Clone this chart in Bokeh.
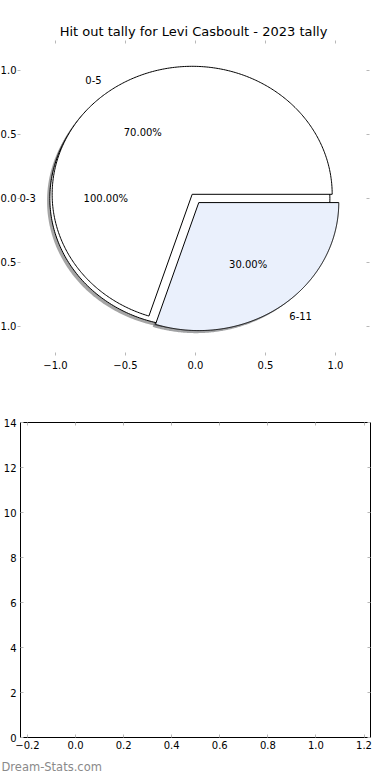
import numpy as np
from bokeh.plotting import figure
from bokeh.layouts import column
from bokeh.models import Range1d, LinearAxis, FixedTicker, Title
from bokeh.core.properties import value
from bokeh.embed import file_html
from bokeh.resources import INLINE

# ---------------- data ----------------
title_text = "Hit out tally for Levi Casboult - 2023 tally"
outer_labels = ["0-3"]
outer_values = [100.0]
outer_colors = ["#ffffff"]
inner_labels = ["0-5", "6-11"]
inner_values = [70.0, 30.0]
inner_colors = ["#ffffff", "#eaf0fc"]
explode_amount = 0.04
shadow_offset = 0.02

pie_ticks = [-1.0, -0.5, 0.0, 0.5, 1.0]
pie_tick_labels = ["\u22121.0", "\u22120.5", "0.0", "0.5", "1.0"]
bar_x_ticks = [-0.2, 0.0, 0.2, 0.4, 0.6, 0.8, 1.0, 1.2]
bar_x_tick_labels = ["\u22120.2", "0.0", "0.2", "0.4", "0.6", "0.8", "1.0", "1.2"]
bar_y_ticks = [0, 2, 4, 6, 8, 10, 12, 14]
bar_y_tick_labels = ["0", "2", "4", "6", "8", "10", "12", "14"]
watermark_text = "Dream-Stats.com"

FONT = "DejaVu Sans"
TICK_FS = "10px"
TICK_COLOR = "#b8b8b8"


def wedges(values, labels, colors):
    total = float(sum(values))
    out = []
    t1 = 0.0
    for v, lab, col in zip(values, labels, colors):
        frac = v / total
        t2 = t1 + 2 * np.pi * frac
        tm = 0.5 * (t1 + t2)
        cx = explode_amount * np.cos(tm)
        cy = explode_amount * np.sin(tm)
        th = np.linspace(t1, t2, 361)
        if frac > 0.999999:
            xs = cx + np.cos(th)
            ys = cy + np.sin(th)
        else:
            xs = np.concatenate([[cx], cx + np.cos(th), [cx]])
            ys = np.concatenate([[cy], cy + np.sin(th), [cy]])
        rgb = np.array([int(col[i:i + 2], 16) for i in (1, 3, 5)]) * 0.3
        shade = "#%02x%02x%02x" % tuple(int(round(c)) for c in rgb)
        out.append(dict(
            xs=list(xs), ys=list(ys), color=col, shade=shade,
            label=lab, lx=cx + 1.1 * np.cos(tm), ly=cy + 1.1 * np.sin(tm),
            align="right" if np.cos(tm) < 0 else "left",
            pct="%.2f%%" % (100 * frac),
            px=cx + 0.6 * np.cos(tm), py=cy + 0.6 * np.sin(tm)))
        t1 = t2
    return out


outer = wedges(outer_values, outer_labels, outer_colors)
inner = wedges(inner_values, inner_labels, inner_colors)
allw = outer + inner


def style_axis(ax, show_labels=True):
    ax.axis_line_color = None
    ax.major_tick_in = 3
    ax.major_tick_out = 0
    ax.major_tick_line_color = TICK_COLOR
    ax.minor_tick_line_color = None
    ax.major_label_text_font = FONT
    if show_labels:
        ax.major_label_text_color = "#000000"
        ax.major_label_text_font_size = TICK_FS
        ax.major_label_standoff = 5
    else:
        ax.major_label_text_color = None
        ax.major_label_text_font_size = "0px"
        ax.major_label_standoff = 0


# ---------------- pie figure ----------------
p1 = figure(width=422, height=390, output_backend="svg", toolbar_location=None,
            x_range=Range1d(-1.271, 1.243), y_range=Range1d(-1.227, 1.234),
            title=title_text, frame_align=False,
            min_border_left=33, min_border_right=21,
            min_border_top=40, min_border_bottom=35)
p1.margin = (0, 0, 0, -16)
p1.title.text_font = FONT
p1.title.text_font_size = "13px"
p1.title.text_font_style = "normal"
p1.title.text_color = "#000000"
p1.title.align = "center"
p1.title.standoff = 4
p1.title.offset = -2
p1.outline_line_color = None
p1.xgrid.visible = False
p1.ygrid.visible = False
p1.background_fill_color = "white"
p1.border_fill_color = "white"

for ax in p1.xaxis + p1.yaxis:
    style_axis(ax)
p1.yaxis.major_label_standoff = 1
p1.xaxis.ticker = FixedTicker(ticks=pie_ticks)
p1.yaxis.ticker = FixedTicker(ticks=pie_ticks)
p1.xaxis.major_label_overrides = dict(zip(pie_ticks, pie_tick_labels))
p1.yaxis.major_label_overrides = dict(zip(pie_ticks, pie_tick_labels))
ax_top = LinearAxis(ticker=FixedTicker(ticks=pie_ticks))
ax_right = LinearAxis(ticker=FixedTicker(ticks=pie_ticks))
style_axis(ax_top, False)
style_axis(ax_right, False)
p1.add_layout(ax_top, "above")
p1.add_layout(ax_right, "right")

# shadows below all wedges
p1.patches(xs=[[x - shadow_offset for x in w["xs"]] for w in allw],
           ys=[[y - shadow_offset for y in w["ys"]] for w in allw],
           fill_color=[w["shade"] for w in allw], fill_alpha=0.5, line_color=None)
# outer (0-3) pie, then inner pie
for group in (outer, inner):
    p1.patches(xs=[w["xs"] for w in group], ys=[w["ys"] for w in group],
               fill_color=[w["color"] for w in group], line_color="black",
               line_width=1, line_join="miter")

for w in allw:
    p1.text(x=[w["lx"]], y=[w["ly"]], text=[w["label"]], text_align=w["align"],
            text_baseline="middle", text_font=value(FONT),
            text_font_size=value(TICK_FS), text_color="black")
    p1.text(x=[w["px"]], y=[w["py"]], text=[w["pct"]], text_align="center",
            text_baseline="middle", text_font=value(FONT),
            text_font_size=value(TICK_FS), text_color="black")

# ---------------- empty bar figure ----------------
p2 = figure(width=390, height=390, output_backend="svg", toolbar_location=None,
            x_range=Range1d(-0.229, 1.227), y_range=Range1d(0, 14),
            frame_align=False,
            min_border_left=19, min_border_right=20,
            min_border_top=32, min_border_bottom=40)
p2.outline_line_color = "black"
p2.outline_line_width = 1
p2.xgrid.visible = False
p2.ygrid.visible = False
p2.background_fill_color = "white"
p2.border_fill_color = "white"
for ax in p2.xaxis + p2.yaxis:
    style_axis(ax)
p2.yaxis.major_label_standoff = 4
p2.xaxis.major_label_standoff = 3
p2.xaxis.ticker = FixedTicker(ticks=bar_x_ticks)
p2.yaxis.ticker = FixedTicker(ticks=bar_y_ticks)
p2.xaxis.major_label_overrides = dict(zip(bar_x_ticks, bar_x_tick_labels))
p2.yaxis.major_label_overrides = dict(zip(bar_y_ticks, bar_y_tick_labels))
ax_top2 = LinearAxis(ticker=FixedTicker(ticks=bar_x_ticks))
ax_right2 = LinearAxis(ticker=FixedTicker(ticks=bar_y_ticks))
style_axis(ax_top2, False)
style_axis(ax_right2, False)
p2.add_layout(ax_top2, "above")
p2.add_layout(ax_right2, "right")

wm = Title(text=watermark_text, align="left", offset=-19, standoff=13,
           text_font=FONT, text_font_size="11.5px", text_font_style="normal",
           text_color="#8a8a8a")
p2.add_layout(wm, "below")

layout = column(p1, p2)
open("out.html", "w").write(file_html(layout, INLINE))
